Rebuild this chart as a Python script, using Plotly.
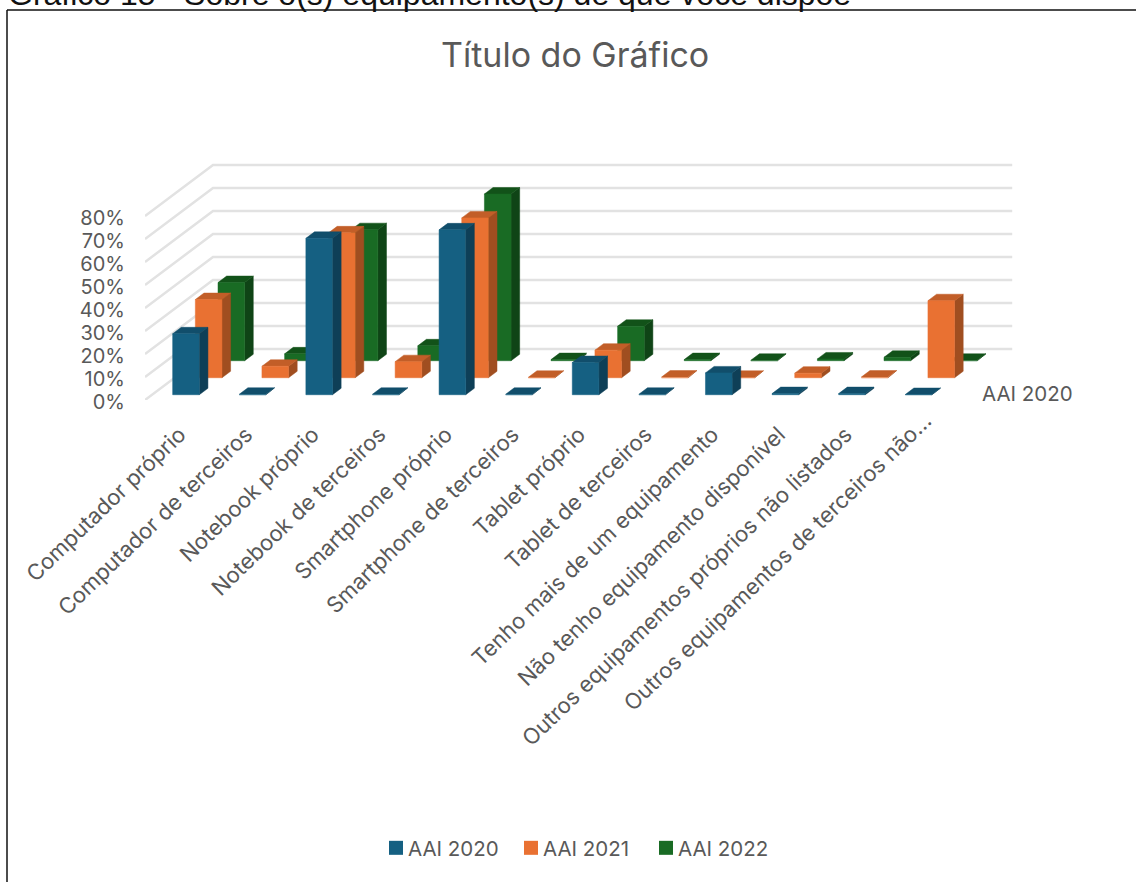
import plotly.graph_objects as go

categories = ["Computador próprio", "Computador de terceiros", "Notebook próprio",
              "Notebook de terceiros", "Smartphone próprio", "Smartphone de terceiros",
              "Tablet próprio", "Tablet de terceiros", "Tenho mais de um equipamento",
              "Não tenho equipamento disponível", "Outros equipamentos próprios não listados",
              "Outros equipamentos de terceiros não…"]
aai_2020 = [26.5, 0.2, 68, 0.2, 71.7, 0.2, 14, 0.2, 9.5, 0.5, 0.5, 0.1]
aai_2021 = [34, 5, 63, 7, 69.5, 0.2, 12, 0.3, 0.2, 2, 0.3, 33.5]
aai_2022 = [34, 3, 57, 6.5, 72.5, 0.5, 15, 0.5, 0.2, 0.8, 1.5, 0.2]
series_names = ["AAI 2020", "AAI 2021", "AAI 2022"]
y_ticks = [0, 10, 20, 30, 40, 50, 60, 70, 80]

FRONT = ["#156082", "#E97132", "#196B24"]
SIDE = ["#0E3F57", "#A04E20", "#0F4416"]
TOP = ["#114E6B", "#C25E28", "#125219"]
GRID = "#E2E2E2"
TEXT = "#595959"
FONT = "Inter"

W, H = 1136, 882
L, R, T, B = 145, 1090, 150, 400          # plot rectangle in page pixels
PX_PER_CAT, PX_PER_PCT = 66.6, 2.3
DX, DY = 22.67 / PX_PER_CAT, 17 / PX_PER_PCT  # oblique shift of one depth row
BAR_W, BAR_D, BAR_X0, BAR_D0 = 0.4, 0.38, 0.31, 0.31


def px(d_x, d_y):
    return (d_x - L) / (R - L), (B - d_y) / (B - T)


def polys(points):
    xs, ys = [], []
    for poly in points:
        for x, y in poly + poly[:1]:
            xs.append(x)
            ys.append(y)
        xs.append(None)
        ys.append(None)
    return xs, ys


fig = go.Figure()

# walls
depth_total = 3
n = len(categories)
for v in y_ticks:
    fig.add_trace(go.Scatter(
        x=[0, depth_total * DX, n + depth_total * DX],
        y=[v, v + depth_total * DY, v + depth_total * DY],
        mode="lines", line=dict(color=GRID, width=2.5), showlegend=False, hoverinfo="skip"))

# bars, back row first
rows = [aai_2020, aai_2021, aai_2022]
for r in (2, 1, 0):
    d0 = BAR_D0 + r
    d1 = d0 + BAR_D
    front, side, top = [], [], []
    for i, v in enumerate(rows[r]):
        x0 = i + BAR_X0
        x1 = x0 + BAR_W
        p = lambda x, d, h: (x + d * DX, h + d * DY)
        front.append([p(x0, d0, 0), p(x1, d0, 0), p(x1, d0, v), p(x0, d0, v)])
        side.append([p(x1, d0, 0), p(x1, d1, 0), p(x1, d1, v), p(x1, d0, v)])
        top.append([p(x0, d0, v), p(x1, d0, v), p(x1, d1, v), p(x0, d1, v)])
    for shape_list, col in ((side, SIDE[r]), (top, TOP[r]), (front, FRONT[r])):
        xs, ys = polys(shape_list)
        fig.add_trace(go.Scatter(x=xs, y=ys, mode="lines", fill="toself", fillcolor=col,
                                 line=dict(color=col, width=0.5), showlegend=False,
                                 hoverinfo="skip"))

# legend entries
for name, col in zip(series_names, FRONT):
    fig.add_trace(go.Scatter(x=[None], y=[None], mode="markers", name=name,
                             marker=dict(symbol="square", size=14, color=col)))

fig.update_layout(
    width=W, height=H, paper_bgcolor="white", plot_bgcolor="white",
    margin=dict(l=L, r=W - R, t=T, b=H - B, autoexpand=False),
    font=dict(family=FONT, color=TEXT, size=20),
    legend=dict(orientation="h", x=px(368, 0)[0], xanchor="left", xref="paper", yref="paper",
                y=px(0, 848)[1], yanchor="middle", font=dict(size=20.5, color=TEXT),
                entrywidth=90, entrywidthmode="pixels",
                itemsizing="trace", bgcolor="rgba(0,0,0,0)"),
    xaxis=dict(range=[0, (R - L) / PX_PER_CAT], showgrid=False, zeroline=False, showline=False,
               tickmode="array", tickvals=[0.52 + i for i in range(n - 1)], ticktext=categories[:-1],
               tickangle=-44, ticks="outside", ticklen=12, tickcolor="rgba(0,0,0,0)",
               tickfont=dict(size=22, color=TEXT), automargin=False),
    yaxis=dict(range=[0, (B - T) / PX_PER_PCT], showgrid=False, zeroline=False, showline=False,
               tickmode="array", tickvals=y_ticks, ticktext=[f"{v}%" for v in y_ticks],
               ticks="outside", ticklen=15, tickcolor="rgba(0,0,0,0)", ticklabelshift=2,
               tickfont=dict(size=20, color=TEXT), automargin=False),
    shapes=[
        dict(type="line", xref="paper", yref="paper", x0=px(7, 0)[0], x1=px(W, 0)[0],
             y0=px(0, 10)[1], y1=px(0, 10)[1], line=dict(color="#111111", width=1.5)),
        dict(type="line", xref="paper", yref="paper", x0=px(7, 0)[0], x1=px(7, 0)[0],
             y0=px(0, 10)[1], y1=px(0, H)[1], line=dict(color="#111111", width=1.5)),
    ],
    annotations=[
        dict(text="Título do Gráfico", xref="paper", yref="paper", x=px(575, 0)[0],
             y=px(0, 54)[1], xanchor="center", yanchor="middle", showarrow=False,
             font=dict(size=34, color=TEXT, family=FONT)),
        dict(text="AAI 2020", xref="paper", yref="paper", x=px(1027, 0)[0],
             y=px(0, 393)[1], xanchor="center", yanchor="middle", showarrow=False,
             font=dict(size=20.5, color=TEXT, family=FONT)),
        dict(text=categories[-1], xref="paper", yref="paper", x=px(777, 0)[0],
             y=px(0, 562)[1], xanchor="center", yanchor="middle", showarrow=False,
             textangle=-44, font=dict(size=22, color=TEXT, family=FONT)),
        dict(text="Gráfico 15 - Sobre o(s) equipamento(s) de que você dispõe", xref="paper",
             yref="paper", x=px(6, 0)[0], y=px(0, -6)[1], xanchor="left", yanchor="middle",
             showarrow=False, font=dict(size=32, color="#111111", family="Liberation Sans")),
    ],
)

POST = """
document.body.style.margin='0';document.body.style.overflow='hidden';
var gd=document.getElementById('{plot_id}');
function shiftLegend(){
  gd.querySelectorAll('.legendpoints').forEach(function(e){e.setAttribute('transform','translate(8,0)');});
}
setTimeout(shiftLegend,0);
gd.on('plotly_afterplot',shiftLegend);
"""

fig.write_html("out.html", post_script=POST, config=dict(displayModeBar=False))
